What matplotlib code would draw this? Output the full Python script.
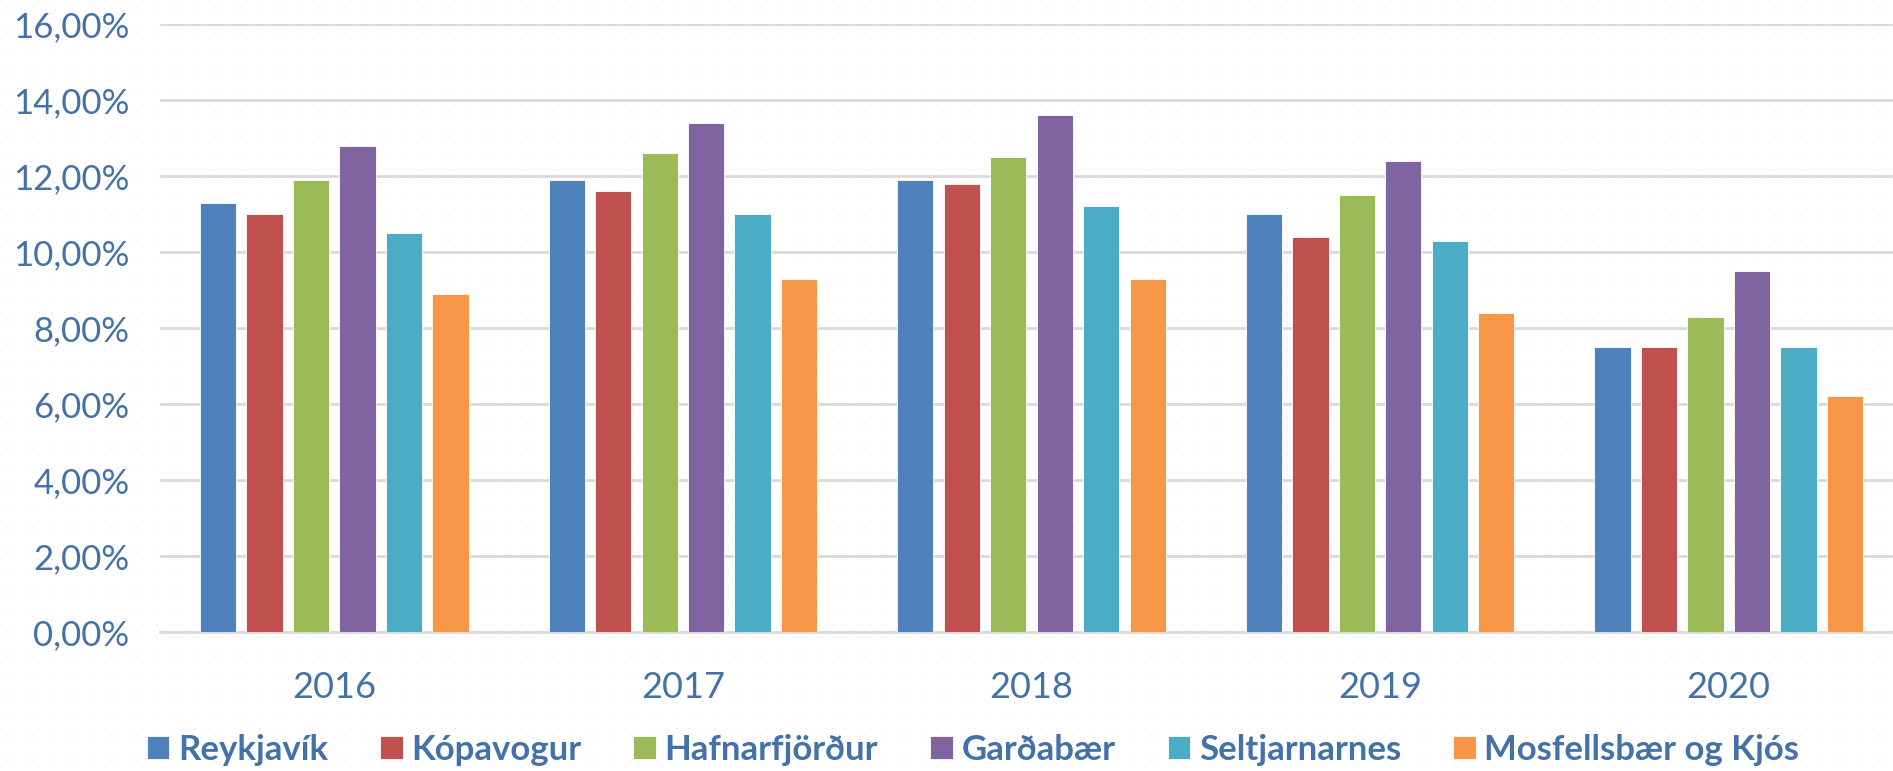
import numpy as np
import matplotlib
matplotlib.use("Agg")
import matplotlib.pyplot as plt
from matplotlib.ticker import FuncFormatter

years = ["2016", "2017", "2018", "2019", "2020"]
towns = ["Reykjavík", "Kópavogur", "Hafnarfjörður", "Garðabær", "Seltjarnarnes", "Mosfellsbær og Kjós"]

reykjavik = [11.3, 11.9, 11.9, 11.0, 7.5]
kopavogur = [11.0, 11.6, 11.8, 10.4, 7.5]
hafnarfjordur = [11.9, 12.6, 12.5, 11.5, 8.3]
gardabaer = [12.8, 13.4, 13.6, 12.4, 9.5]
seltjarnarnes = [10.5, 11.0, 11.2, 10.3, 7.5]
mosfellsbaer = [8.9, 9.3, 9.3, 8.4, 6.2]

series = [reykjavik, kopavogur, hafnarfjordur, gardabaer, seltjarnarnes, mosfellsbaer]
colors = ["#4F81BD", "#C0504D", "#9BBB59", "#8064A2", "#4BACC6", "#F79646"]
text_color = "#4571A9"

plt.rcParams['font.family'] = ['Lato', 'DejaVu Sans']

W, H = 1893, 771
fig = plt.figure(figsize=(W / 100, H / 100), dpi=100)

# faint dotted background
bg = np.ones((H, W, 3))
bg[::13, ::13] = 0.90
fig.figimage(bg, 0, 0, zorder=-5)

ax = fig.add_axes([160 / W, 1 - 632 / H, 1743 / W, 608 / H])
ax.set_zorder(2)
ax.patch.set_alpha(0)

x = np.arange(len(years))
pitch = 0.1333
width = 0.104
for i, (vals, name, c) in enumerate(zip(series, towns, colors)):
    ax.bar(x + (i - 2.5) * pitch, vals, width, color=c, label=name, zorder=3,
           edgecolor="white", linewidth=0.6)

ax.set_xlim(-0.5, 4.5)
ax.set_ylim(0, 16)
ax.set_yticks(np.arange(0, 17, 2))
ax.yaxis.set_major_formatter(FuncFormatter(lambda v, p: f"{v:.2f}".replace(".", ",") + "%"))
ax.set_xticks(x)
ax.set_xticklabels(years)

ax.grid(axis="y", color="#D9D9D9", linewidth=2, zorder=1)
for s in ["top", "right", "left"]:
    ax.spines[s].set_visible(False)
ax.spines["bottom"].set_color("#D9D9D9")
ax.spines["bottom"].set_linewidth(2)

ax.tick_params(axis="y", length=0, pad=22, labelsize=25, labelcolor=text_color)
ax.tick_params(axis="x", length=0, pad=28, labelsize=26, labelcolor=text_color)

leg = fig.legend(loc="center", bbox_to_anchor=(973 / W, 1 - 750 / H), ncol=6, frameon=False,
                 prop={"weight": "bold", "size": 25}, handlelength=0.65, handleheight=0.65,
                 handletextpad=0.25, columnspacing=1.5)
leg.set_zorder(3)
for t in leg.get_texts():
    t.set_color(text_color)

fig.savefig("out.png", dpi=100)
